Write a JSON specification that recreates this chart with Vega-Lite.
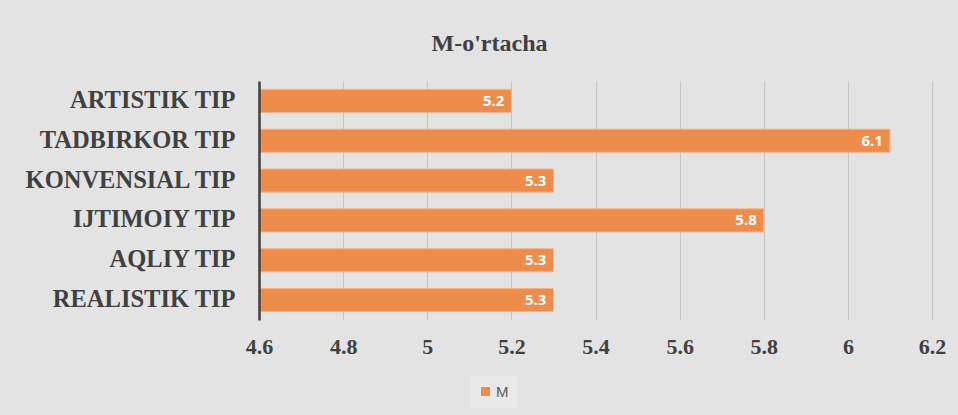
{
  "$schema": "https://vega.github.io/schema/vega-lite/v6.json",
  "width": 673,
  "height": 239,
  "autosize": {"type": "none"},
  "padding": {"left": 259, "top": 81, "right": 26, "bottom": 95},
  "background": "#e3e3e3",
  "config": {"view": {"stroke": null}},
  "title": {
    "text": "M-o'rtacha",
    "font": "Liberation Serif",
    "fontSize": 24,
    "fontWeight": "bold",
    "color": "#404040",
    "anchor": "middle",
    "dx": -106,
    "offset": 25
  },
  "data": {
    "values": [
      {"tip": "ARTISTIK TIP", "M": 5.2, "series": "M"},
      {"tip": "TADBIRKOR TIP", "M": 6.1, "series": "M"},
      {"tip": "KONVENSIAL TIP", "M": 5.3, "series": "M"},
      {"tip": "IJTIMOIY TIP", "M": 5.8, "series": "M"},
      {"tip": "AQLIY TIP", "M": 5.3, "series": "M"},
      {"tip": "REALISTIK TIP", "M": 5.3, "series": "M"}
    ]
  },
  "encoding": {
    "y": {
      "field": "tip",
      "type": "nominal",
      "sort": null,
      "scale": {"paddingInner": 0.42, "paddingOuter": 0.21},
      "axis": {
        "title": null,
        "labelFont": "Liberation Serif",
        "labelFontSize": 24.5,
        "labelFontWeight": "bold",
        "labelColor": "#404040",
        "labelPadding": 24,
        "labelLimit": 0,
        "ticks": false,
        "domainColor": "#404040",
        "domainWidth": 2.5,
        "zindex": 1
      }
    },
    "x": {
      "field": "M",
      "type": "quantitative",
      "scale": {"domain": [4.6, 6.2], "nice": false, "zero": false},
      "axis": {
        "title": null,
        "values": [4.6, 4.8, 5, 5.2, 5.4, 5.6, 5.8, 6, 6.2],
        "format": ".1~f",
        "labelFont": "Liberation Serif",
        "labelFontSize": 22,
        "labelFontWeight": "bold",
        "labelColor": "#404040",
        "labelPadding": 16,
        "labelFlush": false,
        "ticks": false,
        "domain": false,
        "grid": true,
        "gridColor": "#c4c4c4",
        "gridWidth": 1
      }
    }
  },
  "layer": [
    {
      "mark": {"type": "bar", "stroke": "#f3b48a", "strokeWidth": 1},
      "encoding": {
        "x2": {"datum": 4.6},
        "color": {
          "field": "series",
          "type": "nominal",
          "scale": {"range": ["#ee8c4c"]},
          "legend": {
            "title": null,
            "orient": "none",
            "legendX": 211,
            "legendY": 295,
            "padding": 8,
            "fillColor": "#e9e9e9",
            "symbolType": "square",
            "symbolSize": 81,
            "symbolStrokeWidth": 0,
            "labelFont": "Liberation Sans",
            "labelFontSize": 15,
            "labelColor": "#595959",
            "labelOffset": 3
          }
        }
      }
    },
    {
      "mark": {
        "type": "text",
        "align": "right",
        "baseline": "middle",
        "dx": -7,
        "font": "Open Sans",
        "fontSize": 15,
        "fontWeight": "bold",
        "color": "#ffffff"
      },
      "encoding": {
        "text": {"field": "M", "type": "quantitative", "format": ".1f"}
      }
    }
  ]
}
